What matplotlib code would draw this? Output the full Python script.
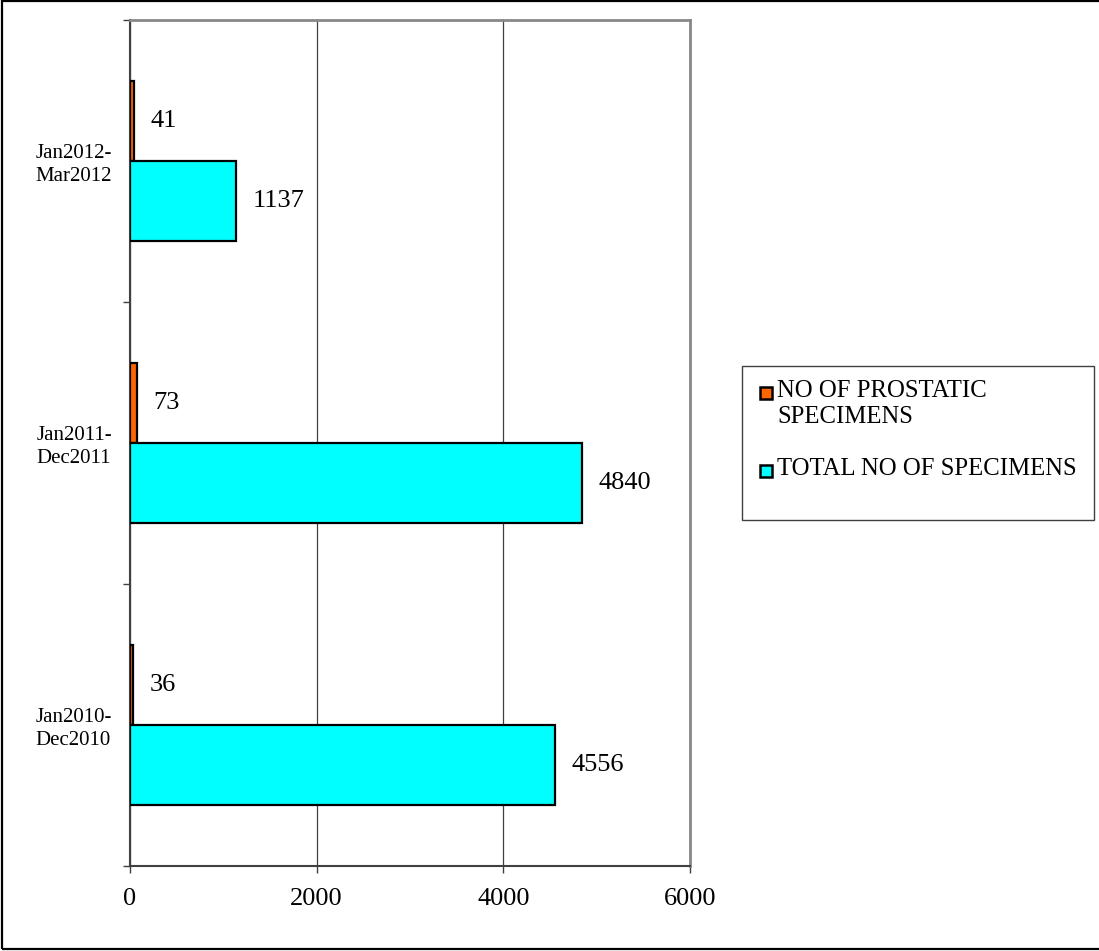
import matplotlib.pyplot as plt
from matplotlib.patches import Rectangle

plt.rcParams['font.family'] = ['Liberation Serif', 'DejaVu Serif']

periods = ['Jan2010-\nDec2010', 'Jan2011-\nDec2011', 'Jan2012-\nMar2012']
prostatic = [36, 73, 41]      # no of prostatic specimens
total = [4556, 4840, 1137]    # total no of specimens
series_names = ['NO OF PROSTATIC\nSPECIMENS', 'TOTAL NO OF SPECIMENS']
series_colors = ['#FF6600', '#00FFFF']
xticks = [0, 2000, 4000, 6000]

W, H = 1099, 951
fig = plt.figure(figsize=(W / 100, H / 100), dpi=100)
ax = fig.add_axes([130 / W, 1 - 866 / H, 560 / W, 846 / H])

bh = 80 / 282
y = list(range(len(periods)))
ax.barh([i + bh / 2 for i in y], prostatic, height=bh, color=series_colors[0],
        edgecolor='black', linewidth=1.6, zorder=3)
ax.barh([i - bh / 2 for i in y], total, height=bh, color=series_colors[1],
        edgecolor='black', linewidth=1.6, zorder=3)

# value labels just past the bar ends
for i in y:
    ax.annotate(str(prostatic[i]), (prostatic[i], i + bh / 2), xytext=(12, 0),
                textcoords='offset points', va='center', ha='left', fontsize=19)
    ax.annotate(str(total[i]), (total[i], i - bh / 2), xytext=(12, 0),
                textcoords='offset points', va='center', ha='left', fontsize=19)

ax.set_xlim(0, 6000)
ax.set_ylim(-0.5, len(periods) - 0.5)
ax.set_xticks(xticks)
ax.set_xticklabels([str(t) for t in xticks], fontsize=19)
ax.tick_params(axis='x', length=5, width=1, color='#404040', pad=11)

ax.set_yticks(y)
ax.set_yticklabels(periods, fontsize=15, multialignment='left', linespacing=1.25)
ax.set_yticks([i - 0.5 for i in range(len(periods) + 1)], minor=True)
ax.tick_params(axis='y', which='major', length=0, pad=13)
ax.tick_params(axis='y', which='minor', length=5, width=1, color='#404040')

ax.grid(axis='x', color='#404040', linewidth=0.9, zorder=0)
ax.spines['left'].set_color('#404040')
ax.spines['left'].set_linewidth(1.5)
ax.spines['bottom'].set_color('#404040')
ax.spines['bottom'].set_linewidth(1.5)
ax.spines['top'].set_color('#888888')
ax.spines['top'].set_linewidth(2)
ax.spines['right'].set_color('#888888')
ax.spines['right'].set_linewidth(2)

# legend box drawn by hand
fig.patches.append(Rectangle((742 / W, 1 - 520 / H), 352 / W, 154 / H,
                             transform=fig.transFigure, fill=False,
                             edgecolor='#404040', linewidth=1))
legend_rows = [393, 471]
for name, col, yy in zip(series_names, series_colors, legend_rows):
    fig.patches.append(Rectangle((760 / W, 1 - (yy + 6) / H), 12 / W, 12 / H,
                                 transform=fig.transFigure, facecolor=col,
                                 edgecolor='black', linewidth=1.8))
    fig.text(777 / W, 1 - (yy - 13) / H, name, fontsize=17.8, va='top',
             ha='left', linespacing=1.25)

# outer frame
fig.patches.append(Rectangle((2 / W, 2 / H), 1.05, 1 - 3 / H,
                             transform=fig.transFigure, fill=False,
                             edgecolor='black', linewidth=1.6))

fig.savefig('out.png', dpi=100)
